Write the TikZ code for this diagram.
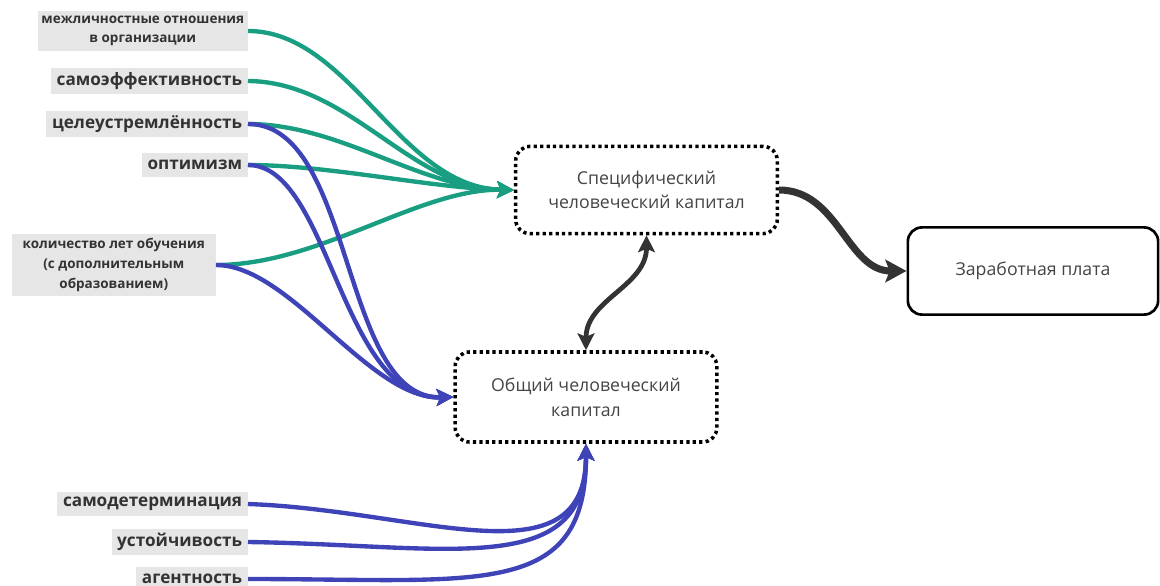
\documentclass[tikz,border=0pt]{standalone}
\usepackage{fontspec}
\setmainfont{Open Sans}
\usetikzlibrary{arrows.meta}
\definecolor{lgreen}{RGB}{26,158,130}
\definecolor{lblue}{RGB}{62,68,184}
\definecolor{lgray}{RGB}{230,230,230}
\definecolor{ldark}{RGB}{51,51,51}
\definecolor{ltext}{RGB}{68,68,68}
\begin{document}
\begin{tikzpicture}[x=0.025cm,y=-0.025cm,
		factor/.style={fill=lgray,text=ldark,font=\bfseries\fontsize{12.2}{14}\selectfont,inner xsep=4pt,minimum height=17pt,anchor=east},
		smallfactor/.style={factor,font=\bfseries\fontsize{9.6}{14}\selectfont,align=center,inner xsep=2.5pt},
		capital/.style={draw=black,rounded corners=10pt,line width=2.5pt,dash pattern=on 2.3pt off 2.3pt,text=ltext,align=center,font=\fontsize{12.6}{17.5}\selectfont},
		link/.style={line width=3.1pt,-{Stealth[length=12pt,width=12pt,inset=2.5pt]}},
		]
				\useasboundingbox (0,0) rectangle (1160,586);
				% factors
				\node[smallfactor,minimum width=149pt,minimum height=27pt] (mezh) at (248,31) {межличностные отношения\\в организации};
				\node[factor] (samoef) at (248,81) {самоэффективность};
				\node[factor] (tsel) at (248,124) {целеустремлённость};
				\node[factor] (optim) at (248,165) {оптимизм};
				\node[smallfactor,minimum width=145pt,minimum height=41pt] (kolvo) at (216,265) {количество лет обучения\\(с дополнительным\\образованием)};
				\node[factor] (samodet) at (248,504) {самодетерминация};
				\node[factor] (ustoich) at (248,542) {устойчивость};
				\node[factor] (agent) at (248,579) {агентность};
				% capitals
				\node[capital,minimum width=186pt,minimum height=62pt] (spec) at (646.5,190) {Специфический\\человеческий капитал};
				\node[capital,minimum width=186pt,minimum height=64pt] (obsh) at (586,397) {Общий человеческий\\капитал};
				\node[draw=black,line width=1.9pt,rounded corners=10pt,text=ltext,font=\fontsize{12.6}{17.5}\selectfont,minimum width=178pt,minimum height=62pt] (zarp) at (1033,271) {Заработная плата};
				% green links
				\draw[link,lgreen] (mezh.east) .. controls (350,31) and (400,188) .. (spec.west);
				\draw[link,lgreen] (samoef.east) .. controls (350,82) and (410,188) .. (spec.west);
				\draw[link,lgreen] (tsel.east) .. controls (340,124) and (420,188) .. (spec.west);
				\draw[link,lgreen] (optim.east) .. controls (330,165) and (430,188) .. (spec.west);
				\draw[link,lgreen] (kolvo.east) .. controls (320,265) and (420,188) .. (spec.west);
				% blue links
				\draw[link,lblue] (tsel.east) .. controls (355,124) and (340,400) .. (obsh.west);
				\draw[link,lblue] (optim.east) .. controls (330,165) and (340,400) .. (obsh.west);
				\draw[link,lblue] (kolvo.east) .. controls (290,265) and (370,400) .. (obsh.west);
				\draw[link,lblue] (samodet.east) .. controls (420,510) and (586,585) .. (obsh.south);
				\draw[link,lblue] (ustoich.east) .. controls (450,545) and (586,580) .. (obsh.south);
				\draw[link,lblue] (agent.east) .. controls (480,579) and (586,600) .. (obsh.south);
				% dark links
				\draw[ldark,line width=3.4pt,{Stealth[length=12pt,width=12pt,inset=2.5pt]}-{Stealth[length=12pt,width=12pt,inset=2.5pt]}] (spec.south) to[out=-90,in=90] (obsh.north);
				\draw[ldark,line width=5pt,-{Stealth[length=15pt,width=16pt,inset=3pt]}] (spec.east) to[out=0,in=180] (zarp.west);
		\end{tikzpicture}
\end{document}
